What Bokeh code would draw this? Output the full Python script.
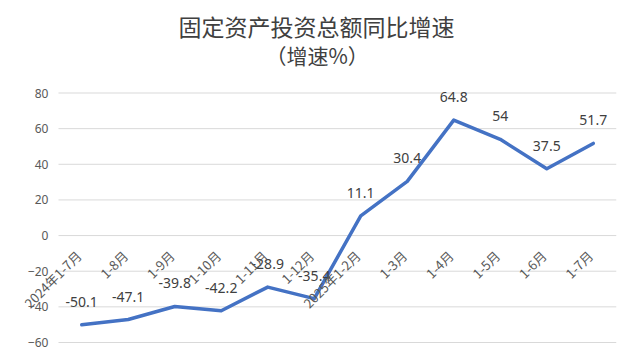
import math
from bokeh.plotting import figure
from bokeh.models import Range1d, FixedTicker, Title
from bokeh.core.properties import value
from bokeh.embed import file_html
from bokeh.resources import INLINE

# ---- data ----
categories = ["2024年1-7月", "1-8月", "1-9月", "1-10月", "1-11月", "1-12月",
              "2025年1-2月", "1-3月", "1-4月", "1-5月", "1-6月", "1-7月"]
growth = [-50.1, -47.1, -39.8, -42.2, -28.9, -35.4, 11.1, 30.4, 64.8, 54, 37.5, 51.7]
y_ticks = [-60, -40, -20, 0, 20, 40, 60, 80]
title_line1 = "固定资产投资总额同比增速"
title_line2 = "（增速%）"

n = len(categories)
xpos = list(range(n))                      # category slots 0..n-1
growth_labels = [f"{v:g}" for v in growth]
zeros = [0] * n
left_edge, right_edge = -0.5, n - 0.5       # edges of the category band

p = figure(width=635, height=362, output_backend="svg", toolbar_location=None,
           x_range=Range1d(-1.532, right_edge), y_range=Range1d(-64.49, 84.77),
           min_border_left=10, min_border_right=19, min_border_top=84,
           min_border_bottom=12)
p.outline_line_color = None
p.background_fill_color = "white"
p.border_fill_color = "white"

p.xaxis.visible = False
p.xgrid.grid_line_color = None
p.ygrid.grid_line_color = None

# y axis pinned at the left edge of the category band (takes no layout space)
p.yaxis.fixed_location = left_edge
p.yaxis.ticker = FixedTicker(ticks=y_ticks)
p.yaxis.axis_line_color = None
p.yaxis.major_tick_line_color = None
p.yaxis.minor_tick_line_color = None
p.yaxis.major_tick_out = 0
p.yaxis.major_tick_in = 0
p.yaxis.major_label_text_font = "Noto Sans"
p.yaxis.major_label_text_font_size = "12px"
p.yaxis.major_label_text_color = "#595959"
p.yaxis.major_label_standoff = 10

# horizontal gridlines across the category band
p.segment(x0=[left_edge] * len(y_ticks), y0=y_ticks,
          x1=[right_edge] * len(y_ticks), y1=y_ticks,
          line_color="#d9d9d9", line_width=1)

p.line(x=xpos, y=growth, line_color="#4472C4", line_width=3.5,
       line_join="round", line_cap="round")

p.text(x=xpos, y=growth, text=growth_labels, text_align="center",
       text_baseline="middle", y_offset=-23, text_font=value("Noto Sans"),
       text_font_size="14px", text_color="#404040")

# category labels, rotated, hanging from the zero line
p.text(x=xpos, y=zeros, text=categories, angle=math.pi / 4,
       text_align="right", text_baseline="middle", x_offset=-3, y_offset=17.5,
       text_font=value("Noto Sans CJK SC"), text_font_size="13px",
       text_color="#595959")

p.add_layout(Title(text=title_line2, align="left", offset=255, standoff=30,
                   text_font="Noto Sans CJK SC", text_font_size="21px",
                   text_font_style="normal", text_color="#404040"), "above")
p.add_layout(Title(text=title_line1, align="left", offset=168, standoff=-41,
                   text_font="Noto Sans CJK SC", text_font_size="23px",
                   text_font_style="normal", text_color="#404040"), "above")

with open("out.html", "w") as f:
    f.write(file_html(p, INLINE))
